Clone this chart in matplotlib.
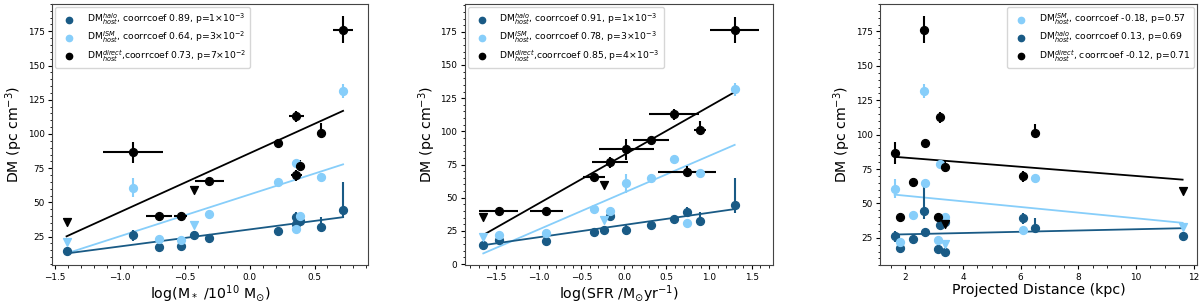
import numpy as np
import matplotlib
matplotlib.use("Agg")
import matplotlib.pyplot as plt
from matplotlib.ticker import AutoMinorLocator

# host galaxy properties, one entry per FRB (A..L)
log_mass = [-1.41, -0.90, -0.70, -0.53, -0.43, -0.31, 0.22, 0.36, 0.36, 0.39, 0.55, 0.72]
log_mass_err = [0.0, 0.23, 0.10, 0.05, 0.0, 0.11, 0.0, 0.06, 0.04, 0.0, 0.0, 0.08]
log_sfr = [-1.65, 0.03, -0.91, -1.47, -0.23, -0.35, 0.32, 0.59, 0.74, -0.16, 0.89, 1.30]
log_sfr_err = [0.0, 0.32, 0.19, 0.23, 0.0, 0.13, 0.21, 0.29, 0.34, 0.21, 0.07, 0.29]
proj_dist = [3.38, 1.63, 3.13, 1.83, 11.62, 2.27, 2.67, 3.21, 6.09, 3.38, 6.49, 2.64]

# DM contributions (pc cm^-3)
dm_halo = [14.5, 26.0, 17.2, 17.8, 26.0, 24.3, 29.2, 34.0, 39.2, 36.4, 32.3, 44.6]
dm_halo_lo = [2, 4, 0, 0, 3, 0, 0, 2, 4, 3, 3, 6]
dm_halo_hi = [2, 4, 0, 0, 3, 0, 0, 2, 4, 3, 7, 20]
dm_ism = [20.7, 60.7, 23.2, 22.2, 33.2, 41.4, 65.0, 79.0, 30.6, 40.2, 68.8, 131.6]
dm_ism_err = [0, 7, 0, 0, 0, 0, 0, 0, 0, 0, 0, 5]
dm_direct = [35.4, 86.5, 40.0, 40.0, 59.3, 65.6, 93.7, 112.8, 69.7, 76.7, 101.0, 176.3]
dm_direct_lo = [0, 8, 2, 3, 0, 3, 2, 4, 4, 4, 3, 10]
dm_direct_hi = [0, 8, 2, 3, 0, 3, 2, 4, 4, 4, 7, 10]
# upper limits drawn as triangles
ism_limit = [True, False, False, False, True, False, False, False, False, False, False, False]
direct_limit = [True, False, False, False, True, False, False, False, False, False, False, False]

# fitted lines: y at the smallest and largest x of each panel
fit_mass = {"halo": [12.7, 39.2], "ism": [12.7, 77.8], "direct": [25.2, 116.9]}
fit_sfr = {"halo": [14.2, 41.4], "ism": [8.0, 89.8], "direct": [21.9, 129.6]}
fit_dist = {"halo": [27.4, 32.0], "ism": [56.4, 35.9], "direct": [83.9, 67.3]}

labels_mass = [r"DM$^{halo}_{host}$, coorrcoef 0.89, p=1$\times$10$^{-3}$",
               r"DM$^{ISM}_{host}$, coorrcoef 0.64, p=3$\times$10$^{-2}$",
               r"DM$^{direct}_{host}$,coorrcoef 0.73, p=7$\times$10$^{-2}$"]
labels_sfr = [r"DM$^{halo}_{host}$, coorrcoef 0.91, p=1$\times$10$^{-3}$",
              r"DM$^{ISM}_{host}$, coorrcoef 0.78, p=3$\times$10$^{-3}$",
              r"DM$^{direct}_{host}$,coorrcoef 0.85, p=4$\times$10$^{-3}$"]
labels_dist = [r"DM$^{halo}_{host}$, coorrcoef 0.13, p=0.69",
               r"DM$^{ISM}_{host}$, coorrcoef -0.18, p=0.57",
               r"DM$^{direct}_{host}$, coorrcoef -0.12, p=0.71"]

DARK = "#195a85"
LIGHT = "#87cefa"
BLACK = "black"


def draw_panel(ax, x, xerr, fits, labels, xlabel, order, loc):
    x = np.asarray(x)
    lim_ism = np.asarray(ism_limit)
    lim_dir = np.asarray(direct_limit)
    halo = np.asarray(dm_halo)
    ism = np.asarray(dm_ism)
    dirc = np.asarray(dm_direct)

    # fitted lines
    xs = [x.min(), x.max()]
    ax.plot(xs, fits["direct"], color=BLACK, lw=1.3, zorder=2)
    ax.plot(xs, fits["ism"], color=LIGHT, lw=1.3, zorder=2)
    ax.plot(xs, fits["halo"], color=DARK, lw=1.3, zorder=2)

    handles = {}
    # halo
    ax.errorbar(x, halo, yerr=[dm_halo_lo, dm_halo_hi], fmt="none",
                ecolor=DARK, elinewidth=1.5, zorder=3)
    handles["halo"] = ax.scatter(x, halo, s=32, color=DARK, zorder=4, label=labels[0])
    # ISM
    ok = ~lim_ism
    ax.errorbar(x[ok], ism[ok], yerr=np.asarray(dm_ism_err)[ok], fmt="none",
                ecolor=LIGHT, elinewidth=1.5, zorder=3)
    handles["ism"] = ax.scatter(x[ok], ism[ok], s=32, color=LIGHT, zorder=4, label=labels[1])
    ax.scatter(x[lim_ism], ism[lim_ism], s=32, marker="v", color=LIGHT, zorder=4)
    # direct
    ok = ~lim_dir
    xe = None if xerr is None else np.asarray(xerr)[ok]
    ax.errorbar(x[ok], dirc[ok], xerr=xe,
                yerr=[np.asarray(dm_direct_lo)[ok], np.asarray(dm_direct_hi)[ok]],
                fmt="none", ecolor=BLACK, elinewidth=1.5, zorder=3)
    handles["direct"] = ax.scatter(x[ok], dirc[ok], s=32, color=BLACK, zorder=4, label=labels[2])
    ax.scatter(x[lim_dir], dirc[lim_dir], s=32, marker="v", color=BLACK, zorder=4)

    ax.legend(handles=[handles[k] for k in order], loc=loc, fontsize=6.7,
              markerscale=0.8, handletextpad=0.9, borderpad=0.45,
              labelspacing=0.35, borderaxespad=0.35)
    ax.set_xlabel(xlabel, fontsize=10.2, labelpad=1)
    ax.set_ylabel(r"DM (pc cm$^{-3}$)", fontsize=10.2, labelpad=2)
    ax.tick_params(labelsize=6.4, length=3, pad=2.5)
    ax.tick_params(which="minor", length=1.8)
    ax.xaxis.set_minor_locator(AutoMinorLocator())
    ax.yaxis.set_minor_locator(AutoMinorLocator())
    ax.set_yticks([0, 25, 50, 75, 100, 125, 150, 175])
    for s in ax.spines.values():
        s.set_color("#444444")


fig = plt.figure(figsize=(12, 3.05), dpi=100)
ax1 = fig.add_axes([0.0435, 0.13, 0.263, 0.857])
ax2 = fig.add_axes([0.3875, 0.13, 0.257, 0.857])
ax3 = fig.add_axes([0.7335, 0.13, 0.264, 0.857])

draw_panel(ax1, log_mass, log_mass_err, fit_mass, labels_mass,
           r"log(M$_*$ /10$^{10}$ M$_{\odot}$)", ["halo", "ism", "direct"], "upper left")
draw_panel(ax2, log_sfr, log_sfr_err, fit_sfr, labels_sfr,
           r"log(SFR /M$_{\odot}$yr$^{-1}$)", ["halo", "ism", "direct"], "upper left")
draw_panel(ax3, proj_dist, None, fit_dist, labels_dist,
           "Projected Distance (kpc)", ["ism", "halo", "direct"], "upper right")

ax1.set_ylim(4, 195)
ax2.set_ylim(-1, 196)
ax3.set_ylim(5, 195)

fig.savefig("out.png", dpi=100)
